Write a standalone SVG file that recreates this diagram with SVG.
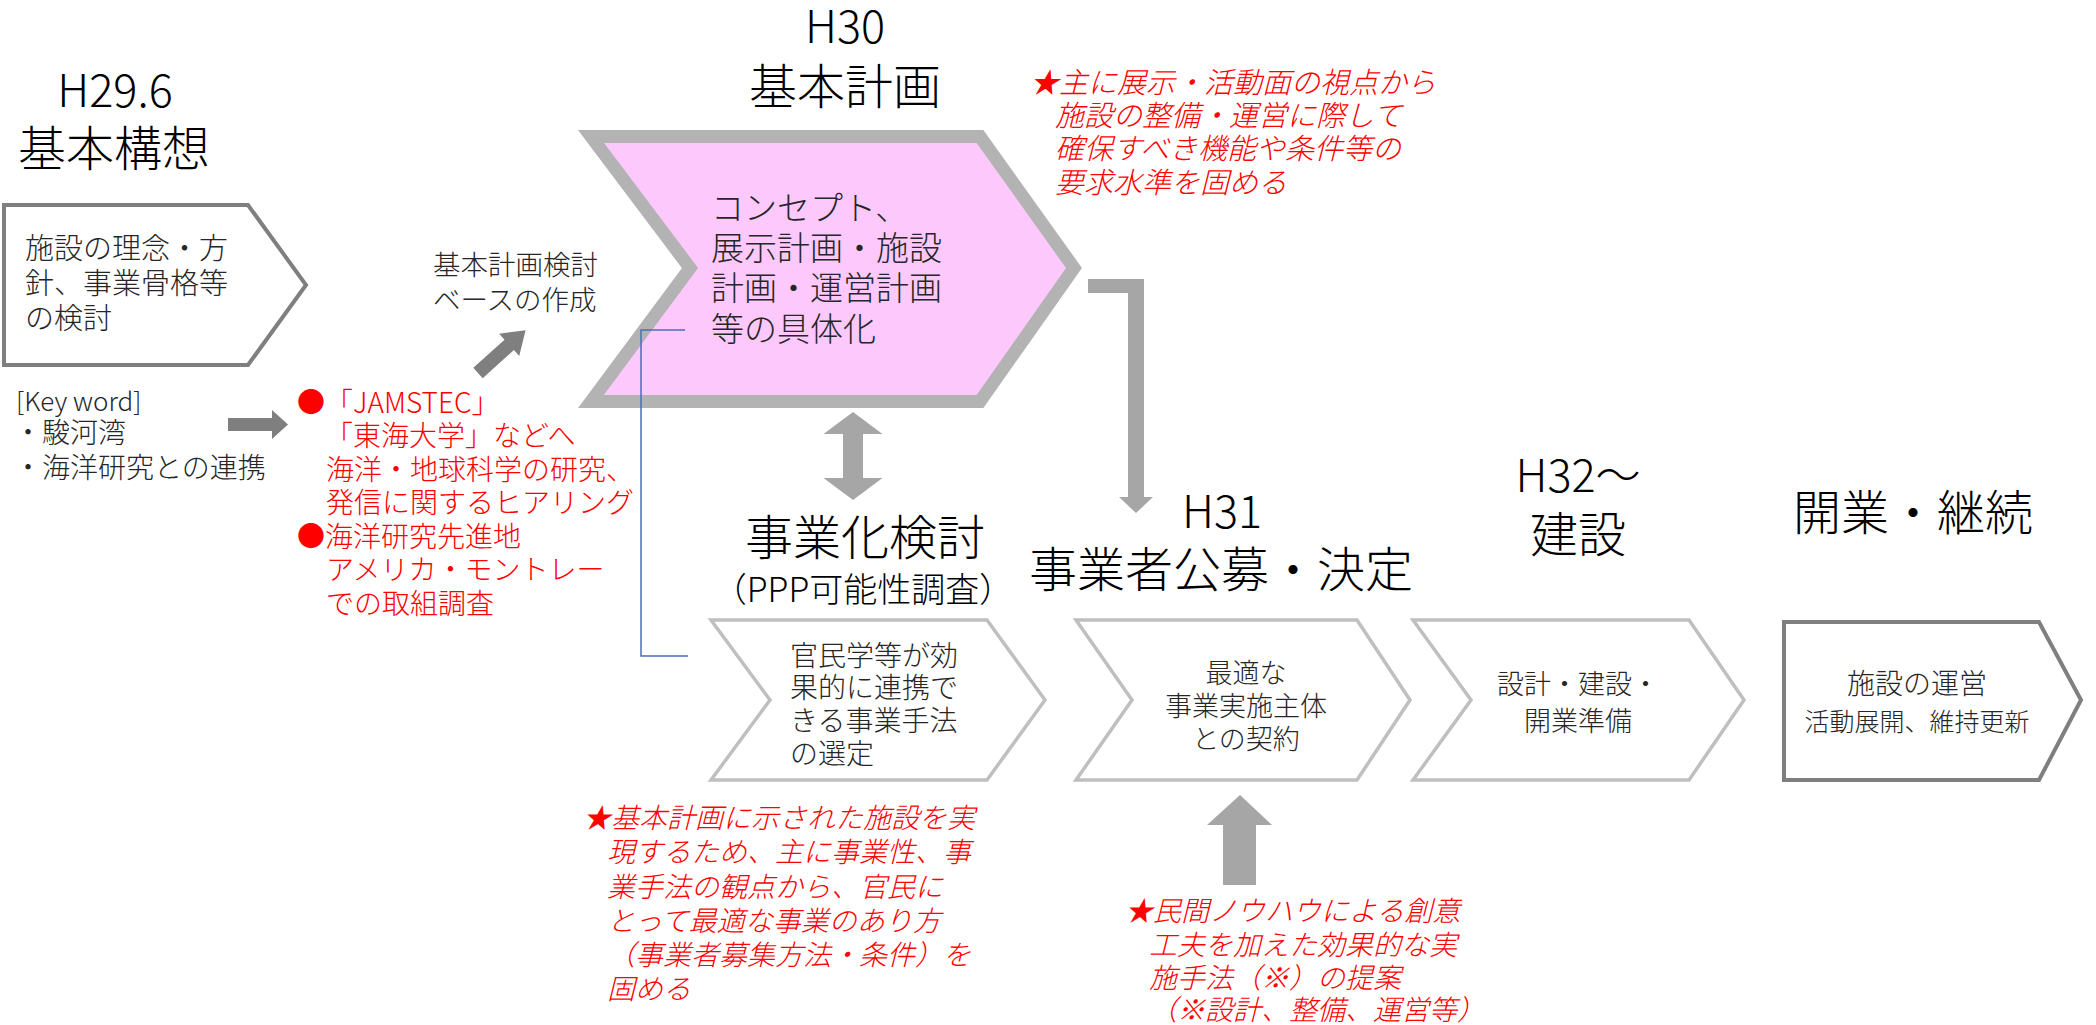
<svg xmlns="http://www.w3.org/2000/svg" width="2096" height="1025" viewBox="0 0 2096 1025">
<style>
text{font-family:"Noto Sans CJK JP","Noto Sans",sans-serif;font-weight:300}
.title{font-size:48px;fill:#000;text-anchor:middle}
.h{font-size:45px;fill:#000;text-anchor:middle}
.nt{font-size:28px;fill:#262626}
.ntc{font-size:27px;fill:#262626;text-anchor:middle}
.red{font-size:28px;fill:#ff0000}
.redi{font-size:28px;fill:#ff0000;font-style:italic}
.dark{fill:#fff;stroke:#7f7f7f;stroke-width:4}
.light{fill:#fff;stroke:#bfbfbf;stroke-width:3.5}
.arrowA{fill:#7f7f7f}
.arrowB{fill:#a6a6a6}
</style>
<rect width="2096" height="1025" fill="#fff"/>

<g id="titles">
<text class="h" x="115" y="107">H29.6</text>
<text class="title" x="114" y="166">基本構想</text>
<text class="h" x="845" y="43">H30</text>
<text class="title" x="845" y="104">基本計画</text>
<text class="title" x="865" y="555">事業化検討</text>
<text class="title" x="863" y="602" style="font-size:34px">（PPP可能性調査）</text>
<text class="h" x="1222" y="528">H31</text>
<text class="title" x="1221" y="587">事業者公募・決定</text>
<text class="h" x="1578" y="492">H32～</text>
<text class="title" x="1578" y="552">建設</text>
<text class="title" x="1913" y="530">開業・継続</text>
</g>

<g id="node-kihonkoso">
<polygon class="dark" points="4,205 248,205 306,285 248,365 4,365"/>
<text class="nt" x="25" y="259" style="font-size:29px">施設の理念・方</text>
<text class="nt" x="25" y="294" style="font-size:29px">針、事業骨格等</text>
<text class="nt" x="25" y="329" style="font-size:29px">の検討</text>
</g>

<g id="node-keyword">
<text class="nt" x="16" y="411" style="font-size:26px">[Key word]</text>
<text class="nt" x="14" y="443">・駿河湾</text>
<text class="nt" x="14" y="478">・海洋研究との連携</text>
</g>

<g id="node-hearing">
<text class="red" x="297" y="413">●「JAMSTEC」</text>
<text class="red" x="325" y="446">「東海大学」などへ</text>
<text class="red" x="326" y="480">海洋・地球科学の研究、</text>
<text class="red" x="326" y="513">発信に関するヒアリング</text>
<text class="red" x="297" y="547">●海洋研究先進地</text>
<text class="red" x="326" y="580">アメリカ・モントレー</text>
<text class="red" x="326" y="614">での取組調査</text>
</g>

<g id="node-base">
<text class="nt" x="433" y="275" style="font-size:27.5px">基本計画検討</text>
<text class="nt" x="433" y="310" style="font-size:27.5px">ベースの作成</text>
</g>

<g id="node-kihonkeikaku">
<polygon points="591,136.5 980,136.5 1074,268 980,401.5 591,401.5 690,268" fill="#fdc9fd" stroke="#b3b3b3" stroke-width="13" stroke-linejoin="miter"/>
<text class="nt" x="711" y="220" style="font-size:33px">コンセプト、</text>
<text class="nt" x="711" y="260" style="font-size:33px">展示計画・施設</text>
<text class="nt" x="711" y="300" style="font-size:33px">計画・運営計画</text>
<text class="nt" x="711" y="341" style="font-size:33px">等の具体化</text>
</g>

<g id="note-kihonkeikaku">
<text class="redi" x="1030" y="93" style="font-size:29px">★主に展示・活動面の視点から</text>
<text class="redi" x="1055" y="126" style="font-size:29px">施設の整備・運営に際して</text>
<text class="redi" x="1055" y="159" style="font-size:29px">確保すべき機能や条件等の</text>
<text class="redi" x="1055" y="193" style="font-size:29px">要求水準を固める</text>
</g>

<g id="node-jigyoka">
<polygon class="light" points="711,620 987,620 1045,700 987,780 711,780 770,700"/>
<text class="nt" x="790" y="666">官民学等が効</text>
<text class="nt" x="790" y="698">果的に連携で</text>
<text class="nt" x="790" y="731">きる事業手法</text>
<text class="nt" x="790" y="764">の選定</text>
</g>

<g id="node-koubo">
<polygon class="light" points="1076,620 1357,620 1410,700 1357,780 1076,780 1132,700"/>
<text class="ntc" x="1246" y="683">最適な</text>
<text class="ntc" x="1246" y="716">事業実施主体</text>
<text class="ntc" x="1246" y="749">との契約</text>
</g>

<g id="node-kensetsu">
<polygon class="light" points="1413,620 1689,620 1744,700 1689,780 1413,780 1471,700"/>
<text class="ntc" x="1578" y="694">設計・建設・</text>
<text class="ntc" x="1578" y="731">開業準備</text>
</g>

<g id="node-kaigyo">
<polygon class="dark" points="1784,622 2039,622 2081,700 2039,780 1784,780"/>
<text class="ntc" x="1917" y="694" style="font-size:28px">施設の運営</text>
<text class="ntc" x="1917" y="731" style="font-size:25px">活動展開、維持更新</text>
</g>

<g id="note-jigyoka">
<text class="redi" x="583" y="828">★基本計画に示された施設を実</text>
<text class="redi" x="607" y="862">現するため、主に事業性、事</text>
<text class="redi" x="607" y="897">業手法の観点から、官民に</text>
<text class="redi" x="607" y="931">とって最適な事業のあり方</text>
<text class="redi" x="607" y="965">（事業者募集方法・条件）を</text>
<text class="redi" x="607" y="999">固める</text>
</g>

<g id="note-koubo">
<text class="redi" x="1125" y="921">★民間ノウハウによる創意</text>
<text class="redi" x="1149" y="955">工夫を加えた効果的な実</text>
<text class="redi" x="1149" y="988">施手法（※）の提案</text>
<text class="redi" x="1149" y="1020">（※設計、整備、運営等）</text>
</g>

<g id="connectors">
<polygon class="arrowA" points="228,418 272,418 272,410 288,424.5 272,439 272,431 228,431"/>
<polygon class="arrowA" transform="translate(478,373) rotate(-42)" points="0,-7 42,-7 42,-15 64,0 42,15 42,7 0,7"/>
<polygon class="arrowB" points="853,412 882.5,434 863,434 863,478 882.5,478 853,500 823.5,478 843,478 843,434 823.5,434"/>
<polygon class="arrowB" points="1088,279 1144,279 1144,497 1153,497 1136,513 1119,497 1128,497 1128,293 1088,293"/>
<polygon class="arrowB" points="1240,795 1272,825 1256,825 1256,885 1223,885 1223,825 1207,825"/>
<polyline points="685,330 641,330 641,656 688,656" fill="none" stroke="#4a6fb5" stroke-width="1.5"/>
</g>
</svg>
